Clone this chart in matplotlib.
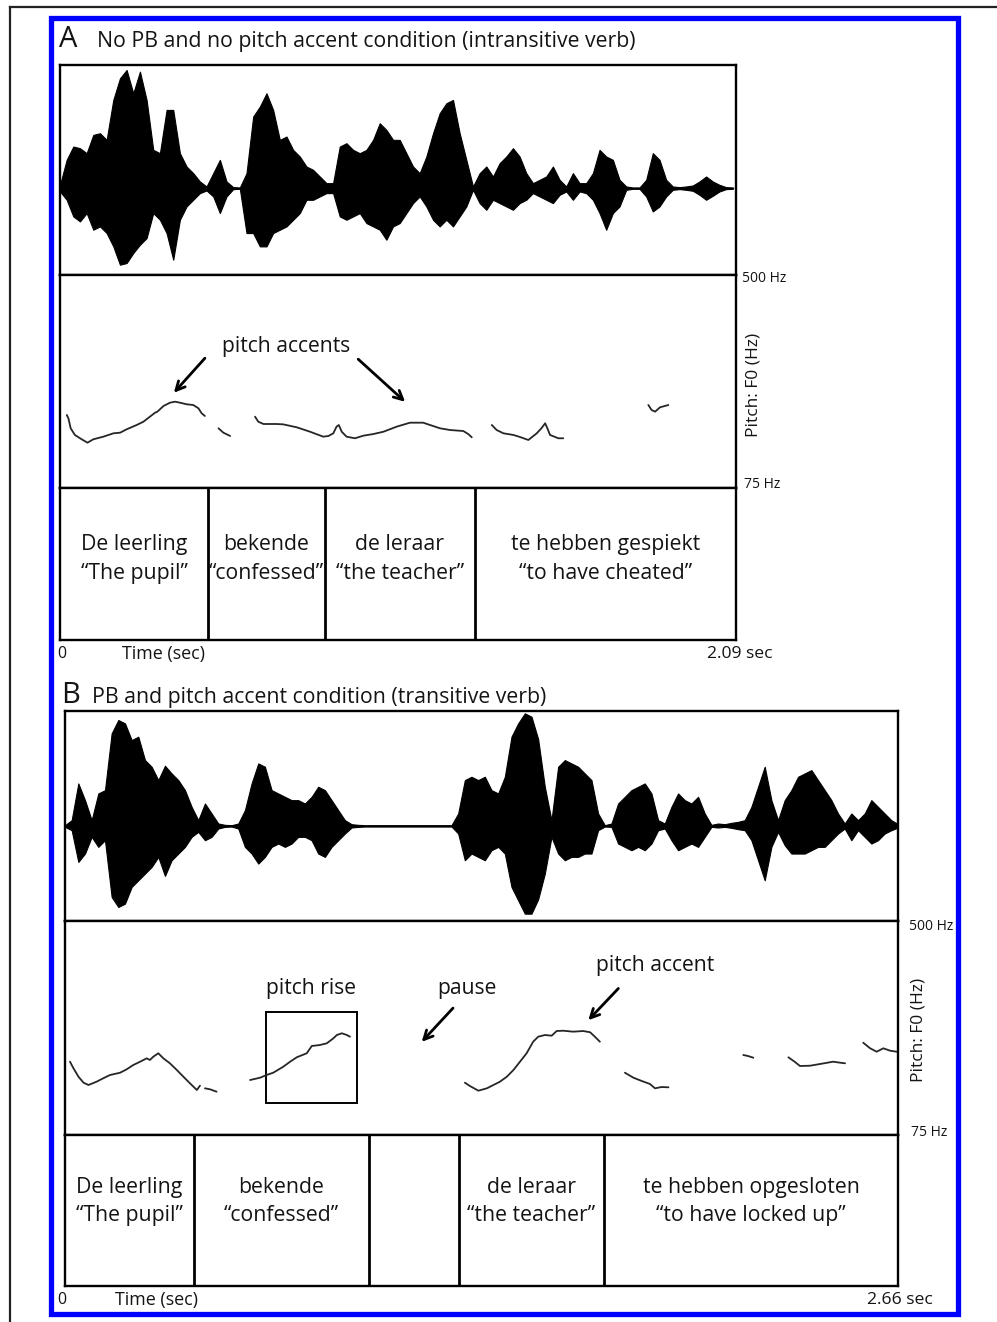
import numpy as np
import matplotlib
matplotlib.use("Agg")
import matplotlib.pyplot as plt
from matplotlib.patches import Rectangle

plt.rcParams['font.family'] = ['Open Sans', 'DejaVu Sans']

# ---------------- data ----------------
DUR_A = 2.09
DUR_B = 2.66
F0_MIN, F0_MAX = 75, 500

# waveform envelopes (relative amplitude, sampled on an even time grid)
WAVE_A_UPPER = [
    0.10, 0.85, 1.25, 1.20, 1.05, 1.60, 1.65, 1.45, 2.65, 3.30,
    3.55, 2.85, 3.50, 2.65, 1.15, 1.05, 2.35, 2.35, 1.05, 0.65,
    0.45, 0.20, 0.05, 0.45, 0.85, 0.20, 0.03, 0.02, 0.45, 2.15,
    2.45, 2.85, 2.35, 1.45, 1.55, 1.15, 0.95, 0.65, 0.55, 0.35,
    0.15, 0.15, 1.25, 1.35, 1.15, 1.05, 1.15, 1.45, 1.95, 1.75,
    1.45, 1.45, 1.05, 0.65, 0.45, 0.95, 1.65, 2.25, 2.55, 2.65,
    1.65, 0.85, 0.05, 0.45, 0.65, 0.35, 0.75,
    0.95, 1.20, 0.95, 0.45, 0.15, 0.25, 0.35, 0.65, 0.25, 0.05,
    0.45, 0.15, 0.15, 0.45, 1.15, 0.95, 0.85, 0.25, 0.05, 0.02,
    0.02, 0.25, 1.05, 0.85, 0.25, 0.05, 0.03, 0.05, 0.08, 0.20,
    0.35, 0.20, 0.10, 0.03, 0.02,
]
WAVE_A_LOWER = [
    0.10, 0.35, 0.85, 1.00, 0.75, 1.25, 1.15, 1.35, 1.75, 2.30,
    2.25, 1.95, 1.70, 1.50, 0.75, 0.95, 1.35, 2.15, 0.95, 0.55,
    0.35, 0.15, 0.07, 0.25, 0.75, 0.25, 0.03, 0.02, 1.35, 1.35,
    1.75, 1.75, 1.35, 1.25, 1.15, 0.95, 0.75, 0.35, 0.35, 0.25,
    0.15, 0.15, 0.85, 0.95, 0.85, 0.75, 1.05, 1.15, 1.25, 1.55,
    1.15, 1.05, 0.75, 0.45, 0.25, 0.55, 0.95, 1.15, 0.95, 1.15,
    0.85, 0.55, 0.05, 0.45, 0.65, 0.35, 0.45,
    0.55, 0.65, 0.45, 0.35, 0.15, 0.25, 0.35, 0.45, 0.20, 0.10,
    0.35, 0.10, 0.15, 0.35, 0.75, 1.25, 0.75, 0.55, 0.05, 0.02,
    0.02, 0.25, 0.70, 0.55, 0.25, 0.05, 0.03, 0.05, 0.08, 0.20,
    0.35, 0.23, 0.10, 0.03, 0.02,
]
WAVE_A_END = 2.08
WAVE_A_RANGE = (-2.61, 3.70)

WAVE_B_UPPER = [
    0.02, 0.17, 1.27, 0.77, 0.17, 0.97, 1.07, 2.77, 3.17, 3.07,
    2.57, 2.67, 1.97, 1.77, 1.37, 1.80, 1.57, 1.37, 1.07, 0.57,
    0.17, 0.67, 0.37, 0.07, 0.03, 0.02, 0.07, 0.47, 1.27, 1.87,
    1.77, 1.07, 0.97, 0.87, 0.77, 0.77, 0.67, 0.87, 1.17, 1.07,
    0.77, 0.47, 0.17, 0.05, 0.03,
    0.02, 0.02, 0.02, 0.02, 0.02, 0.02, 0.02, 0.02, 0.02, 0.02,
    0.02, 0.02, 0.02, 0.02,
    0.37, 1.37, 1.47, 1.37, 1.47, 1.07, 0.97, 1.47, 2.67, 3.07,
    3.37, 3.27, 2.60, 1.17,
    0.17, 1.77, 1.97, 1.87, 1.77, 1.57, 1.37, 0.37, 0.02, 0.07,
    0.67, 0.87, 1.07, 1.17, 1.27, 0.97, 0.17, 0.07, 0.57, 0.97,
    0.77, 0.67, 0.87, 0.37, 0.03, 0.07, 0.05, 0.09, 0.12, 0.17,
    0.57, 1.17, 1.77, 0.77, 0.17, 0.77, 1.07, 1.47, 1.57, 1.67,
    1.37, 1.07, 0.77, 0.37, 0.07, 0.37, 0.17, 0.37, 0.77, 0.57,
    0.37, 0.17, 0.05,
]
WAVE_B_LOWER = [
    0.03, 0.13, 1.08, 0.83, 0.33, 0.63, 0.43, 2.13, 2.43, 2.33,
    1.83, 1.63, 1.43, 1.23, 0.93, 1.50, 1.03, 0.83, 0.63, 0.33,
    0.18, 0.43, 0.33, 0.08, 0.03, 0.02, 0.08, 0.63, 0.83, 1.13,
    0.93, 0.63, 0.53, 0.63, 0.53, 0.33, 0.33, 0.43, 0.83, 0.93,
    0.63, 0.43, 0.23, 0.05, 0.03,
    0.02, 0.02, 0.02, 0.02, 0.02, 0.02, 0.02, 0.02, 0.02, 0.02,
    0.02, 0.02, 0.02, 0.02,
    0.23, 1.03, 0.83, 0.93, 1.03, 0.73, 0.63, 0.83, 1.83, 2.23,
    2.63, 2.63, 2.20, 1.43,
    0.33, 0.83, 1.03, 0.93, 0.93, 0.83, 0.83, 0.13, 0.02, 0.03,
    0.53, 0.63, 0.73, 0.63, 0.73, 0.53, 0.13, 0.08, 0.43, 0.73,
    0.63, 0.53, 0.63, 0.33, 0.03, 0.05, 0.03, 0.06, 0.10, 0.13,
    0.43, 1.03, 1.63, 0.63, 0.18, 0.58, 0.83, 0.83, 0.83, 0.73,
    0.63, 0.63, 0.43, 0.23, 0.08, 0.43, 0.13, 0.33, 0.53, 0.43,
    0.23, 0.13, 0.05,
]
WAVE_B_END = 2.66
WAVE_B_RANGE = (-2.85, 3.44)

# F0 contours: voiced stretches (time in s, F0 in Hz)
PITCH_A_T = [
    [0.021, 0.026, 0.033, 0.046, 0.067, 0.085, 0.103, 0.134, 0.165, 0.186,
     0.206, 0.237, 0.258, 0.278, 0.294, 0.301, 0.320, 0.340, 0.356, 0.371,
     0.392, 0.412, 0.428, 0.438, 0.448],
    [0.490, 0.505, 0.526],
    [0.603, 0.613, 0.629, 0.670, 0.690, 0.732, 0.773, 0.814, 0.830, 0.845,
     0.855, 0.862, 0.871, 0.886, 0.912, 0.938, 0.969, 1.000, 1.041, 1.082,
     1.123, 1.144, 1.175, 1.206, 1.247, 1.262, 1.273],
    [1.335, 1.350, 1.371, 1.402, 1.422, 1.448, 1.474, 1.489, 1.500, 1.509,
     1.515, 1.541, 1.556],
    [1.819, 1.829, 1.840, 1.855, 1.881],
]
PITCH_A_HZ = [
    [220.7, 214.0, 194.1, 180.8, 172.2, 165.4, 172.2, 177.4, 184.1, 185.4,
     192.1, 200.7, 207.3, 217.3, 225.3, 227.3, 238.6, 245.2, 247.2, 245.2,
     242.0, 240.6, 234.0, 224.0, 218.7],
    [194.1, 185.4, 178.8],
    [217.3, 207.3, 202.7, 202.7, 202.0, 196.1, 187.3, 177.4, 178.8, 184.1,
     197.4, 200.7, 187.3, 177.4, 174.2, 179.4, 182.7, 187.3, 197.4, 205.3,
     205.3, 200.7, 194.1, 190.7, 188.7, 182.7, 176.2],
    [200.7, 190.7, 184.1, 180.8, 176.8, 170.8, 184.1, 194.7, 204.1, 190.7,
     180.8, 174.2, 174.2],
    [240.6, 230.6, 227.3, 236.0, 240.6],
]

PITCH_B_T = [
    [0.016, 0.027, 0.043, 0.059, 0.075, 0.101, 0.122, 0.144, 0.176, 0.197,
     0.218, 0.240, 0.261, 0.271, 0.282, 0.298, 0.314, 0.335, 0.357, 0.378,
     0.399, 0.421, 0.431],
    [0.447, 0.463, 0.484],
    [0.591, 0.623, 0.644, 0.665, 0.697, 0.719, 0.740, 0.772, 0.788, 0.814,
     0.836, 0.857, 0.868, 0.884, 0.900, 0.910],
    [1.277, 1.293, 1.320, 1.347, 1.368, 1.389, 1.411, 1.432, 1.453, 1.474,
     1.495, 1.511, 1.533, 1.554, 1.570, 1.591, 1.623, 1.655, 1.677, 1.692,
     1.708],
    [1.788, 1.815, 1.842, 1.868, 1.884, 1.905, 1.927],
    [2.166, 2.181, 2.198],
    [2.310, 2.331, 2.347, 2.379, 2.411, 2.453, 2.475, 2.491],
    [2.549, 2.571, 2.592, 2.613, 2.635, 2.656],
]
PITCH_B_HZ = [
    [220.6, 207.5, 190.8, 178.9, 174.3, 180.9, 187.6, 194.2, 198.7, 205.5,
     214.0, 220.6, 227.3, 224.0, 230.5, 237.3, 227.3, 217.4, 204.1, 190.8,
     177.7, 164.4, 172.9],
    [167.7, 165.8, 161.0],
    [184.2, 188.8, 194.2, 198.7, 210.6, 220.6, 229.3, 237.3, 251.8, 253.7,
     257.1, 267.0, 273.6, 277.0, 273.6, 270.2],
    [178.9, 172.3, 163.0, 167.7, 174.3, 180.9, 190.8, 204.1, 220.6, 237.3,
     260.3, 270.2, 273.6, 272.2, 281.5, 282.1, 280.2, 281.5, 279.0, 270.2,
     260.3],
    [198.7, 188.8, 182.2, 176.3, 167.7, 170.3, 169.7],
    [233.9, 231.9, 228.5],
    [229.3, 220.0, 212.0, 212.6, 216.0, 220.6, 218.6, 217.4],
    [258.3, 247.2, 240.4, 247.2, 242.4, 240.4],
]

# word tiers: interval boundaries (s) and labels
BOUNDS_A = [0.458, 0.819, 1.283]
WORDS_A = ["De leerling", "bekende", "de leraar", "te hebben gespiekt"]
GLOSS_A = ["\u201cThe pupil\u201d", "\u201cconfessed\u201d",
           "\u201cthe teacher\u201d", "\u201cto have cheated\u201d"]

BOUNDS_B = [0.412, 0.971, 1.258, 1.721]
WORDS_B = ["De leerling", "bekende", "", "de leraar", "te hebben opgesloten"]
GLOSS_B = ["\u201cThe pupil\u201d", "\u201cconfessed\u201d", "",
           "\u201cthe teacher\u201d", "\u201cto have locked up\u201d"]

TITLE_A = "No PB and no pitch accent condition (intransitive verb)"
TITLE_B = "PB and pitch accent condition (transitive verb)"

# ---------------- drawing ----------------
W, H = 997, 1322
fig = plt.figure(figsize=(W / 100, H / 100), dpi=100)
TXT = "#141414"
SPINE_LW = 1.7
WORD_FS = 15.3
NOTE_FS = 15.2


def rect(x0, y0, x1, y1):
    return [x0 / W, 1 - y1 / H, (x1 - x0) / W, (y1 - y0) / H]


def style_box(ax):
    ax.set_xticks([])
    ax.set_yticks([])
    for s in ax.spines.values():
        s.set_linewidth(SPINE_LW)
        s.set_color("black")


def draw_wave(ax, upper, lower, t_end, dur, yr):
    t = np.linspace(0.0, t_end, len(upper))
    up = np.asarray(upper)
    lo = -np.asarray(lower)
    ax.fill_between(t, lo, up, color="black", lw=0.8)
    ax.plot(t, np.zeros_like(t), color="black", lw=0.9)
    ax.set_xlim(0, dur)
    ax.set_ylim(*yr)
    style_box(ax)


def draw_pitch(ax, ts, hzs, dur):
    for tt, hh in zip(ts, hzs):
        ax.plot(tt, hh, color="#262626", lw=1.3, solid_capstyle="round")
    ax.set_xlim(0, dur)
    ax.set_ylim(F0_MIN, F0_MAX)
    style_box(ax)


def draw_tier(ax, bounds, words, glosses, dur, y1, y2):
    edges = [0.0] + list(bounds) + [dur]
    for b in bounds:
        ax.axvline(b, color="black", lw=2.0)
    for i in range(len(words)):
        mid = 0.5 * (edges[i] + edges[i + 1])
        ax.text(mid, y1, words[i], ha="center", va="center", fontsize=WORD_FS, color=TXT)
        ax.text(mid, y2, glosses[i], ha="center", va="center", fontsize=WORD_FS, color=TXT)
    ax.set_xlim(0, dur)
    ax.set_ylim(1, 0)
    style_box(ax)


ARROW = dict(arrowstyle="->", lw=2.0, color="black", mutation_scale=16,
             shrinkA=0, shrinkB=0)

# Panel A
axA_w = fig.add_axes(rect(60, 65, 736, 275))
draw_wave(axA_w, WAVE_A_UPPER, WAVE_A_LOWER, WAVE_A_END, DUR_A, WAVE_A_RANGE)
axA_p = fig.add_axes(rect(60, 275, 736, 488))
draw_pitch(axA_p, PITCH_A_T, PITCH_A_HZ, DUR_A)
axA_p.text(0.699, 358, "pitch accents", ha="center", va="center", fontsize=NOTE_FS, color=TXT)
axA_p.annotate("", xy=(0.352, 265), xytext=(0.448, 334), arrowprops=ARROW)
axA_p.annotate("", xy=(1.067, 247), xytext=(0.922, 332), arrowprops=ARROW)
axA_t = fig.add_axes(rect(60, 488, 736, 640))
draw_tier(axA_t, BOUNDS_A, WORDS_A, GLOSS_A, DUR_A, 0.37, 0.56)

# Panel B
axB_w = fig.add_axes(rect(65, 711, 898, 921))
draw_wave(axB_w, WAVE_B_UPPER, WAVE_B_LOWER, WAVE_B_END, DUR_B, WAVE_B_RANGE)
axB_p = fig.add_axes(rect(65, 921, 898, 1135))
draw_pitch(axB_p, PITCH_B_T, PITCH_B_HZ, DUR_B)
axB_p.add_patch(Rectangle((0.642, 139), 0.290, 181, fill=False, lw=1.4, ec="black"))
axB_p.text(0.786, 365, "pitch rise", ha="center", va="center", fontsize=NOTE_FS, color=TXT)
axB_p.text(1.284, 365, "pause", ha="center", va="center", fontsize=NOTE_FS, color=TXT)
axB_p.annotate("", xy=(1.139, 260), xytext=(1.239, 327), arrowprops=ARROW)
axB_p.text(1.884, 411, "pitch accent", ha="center", va="center", fontsize=NOTE_FS, color=TXT)
axB_p.annotate("", xy=(1.671, 303), xytext=(1.767, 366), arrowprops=ARROW)
axB_t = fig.add_axes(rect(65, 1135, 898, 1286))
draw_tier(axB_t, BOUNDS_B, WORDS_B, GLOSS_B, DUR_B, 0.345, 0.53)

# Overlay in pixel units for frames and labels
ov = fig.add_axes([0, 0, 1, 1], zorder=10)
ov.set_xlim(0, W)
ov.set_ylim(H, 0)
ov.axis("off")
ov.patch.set_alpha(0)

ov.plot([10, 997], [7, 7], color="#222222", lw=1.6)
ov.plot([10, 10], [7, 1322], color="#222222", lw=1.6)
ov.add_patch(Rectangle((51, 18), 907, 1296, fill=False, ec="#0000ff", lw=3.8))

# titles
ov.text(59, 47, "A", fontsize=21, color=TXT, va="baseline", ha="left")
ov.text(97, 47, TITLE_A, fontsize=15.3, color=TXT, va="baseline", ha="left")
ov.text(61, 703, "B", fontsize=21, color=TXT, va="baseline", ha="left")
ov.text(92, 703, TITLE_B, fontsize=15.3, color=TXT, va="baseline", ha="left")

small = dict(fontsize=10, color=TXT, va="center", ha="left")
ov.text(742, 279, "500 Hz", **small)
ov.text(744, 485, "75 Hz", **small)
ov.text(753, 385, "Pitch: F0 (Hz)", fontsize=12.5, color=TXT, rotation=90,
        ha="center", va="center")
ov.text(57, 654, "0", fontsize=11.5, color=TXT, va="center", ha="left")
ov.text(122, 654, "Time (sec)", fontsize=12.9, color=TXT, va="center", ha="left")
ov.text(772, 654, "2.09 sec", fontsize=12.6, color=TXT, va="center", ha="right")

ov.text(909, 926, "500 Hz", **small)
ov.text(911, 1133, "75 Hz", **small)
ov.text(918, 1030, "Pitch: F0 (Hz)", fontsize=12.5, color=TXT, rotation=90,
        ha="center", va="center")
ov.text(57, 1300, "0", fontsize=11.5, color=TXT, va="center", ha="left")
ov.text(115, 1300, "Time (sec)", fontsize=12.9, color=TXT, va="center", ha="left")
ov.text(933, 1300, "2.66 sec", fontsize=12.6, color=TXT, va="center", ha="right")

fig.savefig("out.png", dpi=100)
